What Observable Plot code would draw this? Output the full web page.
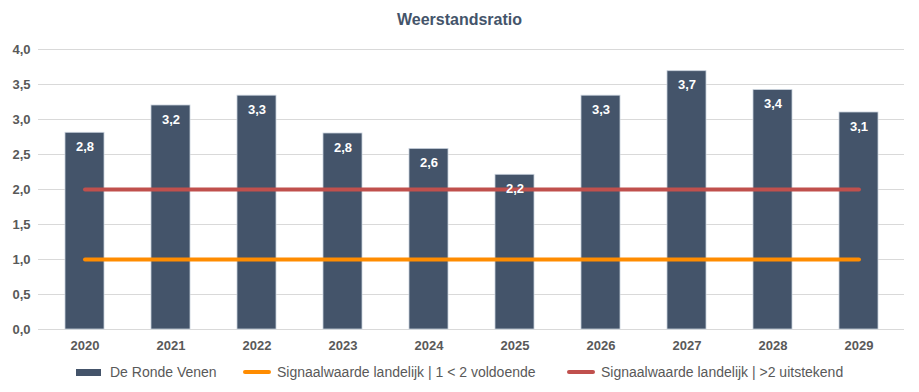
<!DOCTYPE html>
<html><head><meta charset="utf-8">
<script src="https://cdn.jsdelivr.net/npm/d3@7"></script>
<script src="https://cdn.jsdelivr.net/npm/@observablehq/plot@0.6"></script>
<style>
body{margin:0;background:#fff;font-family:"Liberation Sans",Arial,sans-serif;}
#wrap{position:relative;width:919px;height:392px;}
#title{position:absolute;top:11px;left:0;width:919px;text-align:center;font-weight:bold;font-size:16px;color:#44546A;}
#chart{position:absolute;top:35px;left:0;}
.leg{position:absolute;top:364px;font-size:14px;color:#595959;white-space:nowrap;line-height:16px;}
.sw{position:absolute;}
</style></head>
<body><div id="wrap">
<div id="title">Weerstandsratio</div>
<div id="chart"></div>
<div class="sw" style="left:76px;top:369px;width:25px;height:7px;background:#44546A;"></div>
<div class="leg" style="left:110px;">De Ronde Venen</div>
<div class="sw" style="left:243px;top:370px;width:28px;height:4px;border-radius:2px;background:#FF8C00;"></div>
<div class="leg" style="left:277px;">Signaalwaarde landelijk | 1 &lt; 2 voldoende</div>
<div class="sw" style="left:567px;top:370px;width:28px;height:4px;border-radius:2px;background:#C0504D;"></div>
<div class="leg" style="left:601px;">Signaalwaarde landelijk | &gt;2 uitstekend</div>
</div>
<script>
const years = ["2020","2021","2022","2023","2024","2025","2026","2027","2028","2029"];
const ratio = [2.81, 3.20, 3.34, 2.80, 2.58, 2.21, 3.34, 3.69, 3.42, 3.10];
const voldoende = [1,1,1,1,1,1,1,1,1,1];
const uitstekend = [2,2,2,2,2,2,2,2,2,2];
const yTicks = [0,0.5,1,1.5,2,2.5,3,3.5,4];

const fmt = v => d3.format(".1f")(v).replace(".", ",");
const data = years.map((y,i)=>({year:y, ratio:ratio[i], v:voldoende[i], u:uitstekend[i]}));

const plot = Plot.plot({
  width: 919, height: 320,
  marginLeft: 38, marginRight: 15, marginTop: 14, marginBottom: 26,
  x: {domain: years, paddingInner: 0.55, paddingOuter: 0.275, label: null, tickSize: 0},
  y: {domain: [0,4], label: null, ticks: yTicks, tickSize: 0},
  style: {fontFamily: "Liberation Sans, Arial, sans-serif", overflow: "visible"},
  marks: [
    Plot.ruleY(yTicks, {stroke: "#D9D9D9", strokeWidth: 1}),
    Plot.barY(data, {x: "year", y: "ratio", fill: "#44546A", stroke: "#C9D1DC", strokeWidth: 0.8}),
    Plot.line(data, {x: "year", y: "v", stroke: "#FF8C00", strokeWidth: 4, strokeLinecap: "round"}),
    Plot.line(data, {x: "year", y: "u", stroke: "#C0504D", strokeWidth: 4, strokeLinecap: "round"}),
    Plot.text(data, {x: "year", y: "ratio", text: d => fmt(d.ratio), dy: 14, fill: "white", fontWeight: "bold", fontSize: 13}),
    Plot.axisY({ticks: yTicks, tickFormat: fmt, tickSize: 0, tickPadding: 8, fontSize: 13, fontWeight: "bold", fill: "#595959"}),
    Plot.axisX({tickSize: 0, tickPadding: 11, fontSize: 13, fontWeight: "bold", fill: "#595959"})
  ]
});
document.getElementById("chart").appendChild(plot);
</script>
</body></html>
